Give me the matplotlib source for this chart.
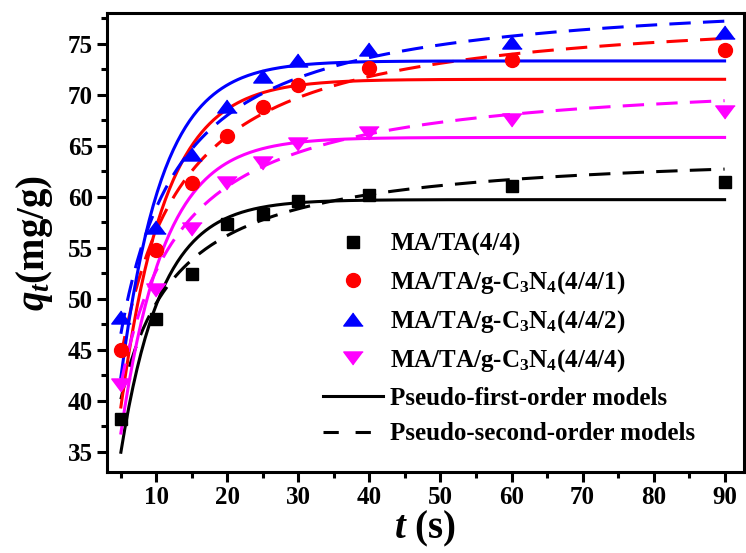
"""Adsorption kinetics of MA/TA and MA/TA/g-C3N4 samples with PFO/PSO fits."""
import numpy as np
import matplotlib
matplotlib.use("Agg")
import matplotlib.pyplot as plt
from matplotlib.lines import Line2D

plt.rcParams["font.family"] = ["Liberation Serif", "DejaVu Serif"]
plt.rcParams["font.weight"] = "bold"
plt.rcParams["axes.labelweight"] = "bold"
plt.rcParams["mathtext.fontset"] = "custom"
plt.rcParams["mathtext.rm"] = "Liberation Serif:bold"
plt.rcParams["mathtext.bf"] = "Liberation Serif:bold"
plt.rcParams["mathtext.it"] = "Liberation Serif:bold:italic"

# contact time (s)
t = [5, 10, 15, 20, 25, 30, 40, 60, 90]
# measured q_t (mg/g)
q_ma_ta = [38.2, 48.0, 52.4, 57.3, 58.3, 59.6, 60.2, 61.0, 61.4]
q_cn1 = [45.0, 54.8, 61.3, 65.9, 68.8, 70.9, 72.6, 73.4, 74.4]
q_cn2 = [48.2, 57.0, 64.2, 68.9, 71.8, 73.4, 74.5, 75.2, 76.1]
q_cn4 = [41.5, 50.8, 56.8, 61.3, 63.3, 65.2, 66.2, 67.5, 68.3]

labels = ["MA/TA(4/4)",
          "MA/TA/g-C$_3$N$_4$(4/4/1)",
          "MA/TA/g-C$_3$N$_4$(4/4/2)",
          "MA/TA/g-C$_3$N$_4$(4/4/4)"]
colors = ["black", "#ff0000", "#0000ff", "#ff00ff"]

# fitted parameters
pfo_qe = [59.7, 71.5, 73.3, 65.8]
pfo_k1 = [0.176, 0.160, 0.172, 0.164]
pso_qe = [64.84, 78.77, 80.31, 72.25]
pso_k2 = [0.00501, 0.003256, 0.003434, 0.003751]

tri_up = [(0, 0.67), (-1, -0.67), (1, -0.67)]
tri_dn = [(0, -0.67), (-1, 0.67), (1, 0.67)]
markers = [("s", 9), ("o", 10), (tri_up, 14), (tri_dn, 14)]

fig = plt.figure(figsize=(7.46, 5.53), dpi=100)
ax = fig.add_axes([0.143, 0.1465, 0.854, 0.83])

tt = np.linspace(5, 90, 300)
series = [q_ma_ta, q_cn1, q_cn2, q_cn4]
handles = []
for i, q in enumerate(series):
    c = colors[i]
    pfo = pfo_qe[i] * (1 - np.exp(-pfo_k1[i] * tt))
    pso = pso_k2[i] * pso_qe[i] ** 2 * tt / (1 + pso_k2[i] * pso_qe[i] * tt)
    ax.plot(tt, pfo, color=c, lw=2.2, zorder=2)
    ax.plot(tt, pso, color=c, lw=2.2, dashes=(7, 4), zorder=2)
    m, ms = markers[i]
    ax.plot(t, q, ls="none", marker=m, ms=ms, color=c, mec=c, zorder=3)
    handles.append(Line2D([], [], ls="none", marker=m, ms=ms, color=c, mec=c))

handles.append(Line2D([], [], color="black", lw=2.2))
handles.append(Line2D([], [], color="black", lw=2.2, dashes=(5, 5.5)))
leg_labels = labels + ["Pseudo-first-order models", "Pseudo-second-order models"]
ax.legend(handles, leg_labels, loc="upper left", bbox_to_anchor=(323 / 746, 1 - 233 / 553),
          bbox_transform=fig.transFigure, frameon=False, fontsize=18,
          handlelength=2.4, handletextpad=0.3, borderpad=0, borderaxespad=0,
          labelspacing=0.5)

ax.set_xlim(3, 92.7)
ax.set_ylim(33, 78)
ax.set_xticks([10, 20, 30, 40, 50, 60, 70, 80, 90])
ax.set_xticks(np.arange(5, 92, 5), minor=True)
ax.set_yticks([35, 40, 45, 50, 55, 60, 65, 70, 75])
ax.set_yticks(np.arange(35, 78, 2.5), minor=True)
ax.tick_params(which="major", direction="out", length=7, width=2.2, labelsize=18, pad=3)
ax.tick_params(which="minor", direction="out", length=4, width=2.2)
for s in ax.spines.values():
    s.set_linewidth(2.2)

ax.set_xlabel("$t$ (s)", fontsize=28, labelpad=0)
ax.set_ylabel("$q_t$(mg/g)", fontsize=28, labelpad=9)

fig.savefig("out.png", dpi=100)
